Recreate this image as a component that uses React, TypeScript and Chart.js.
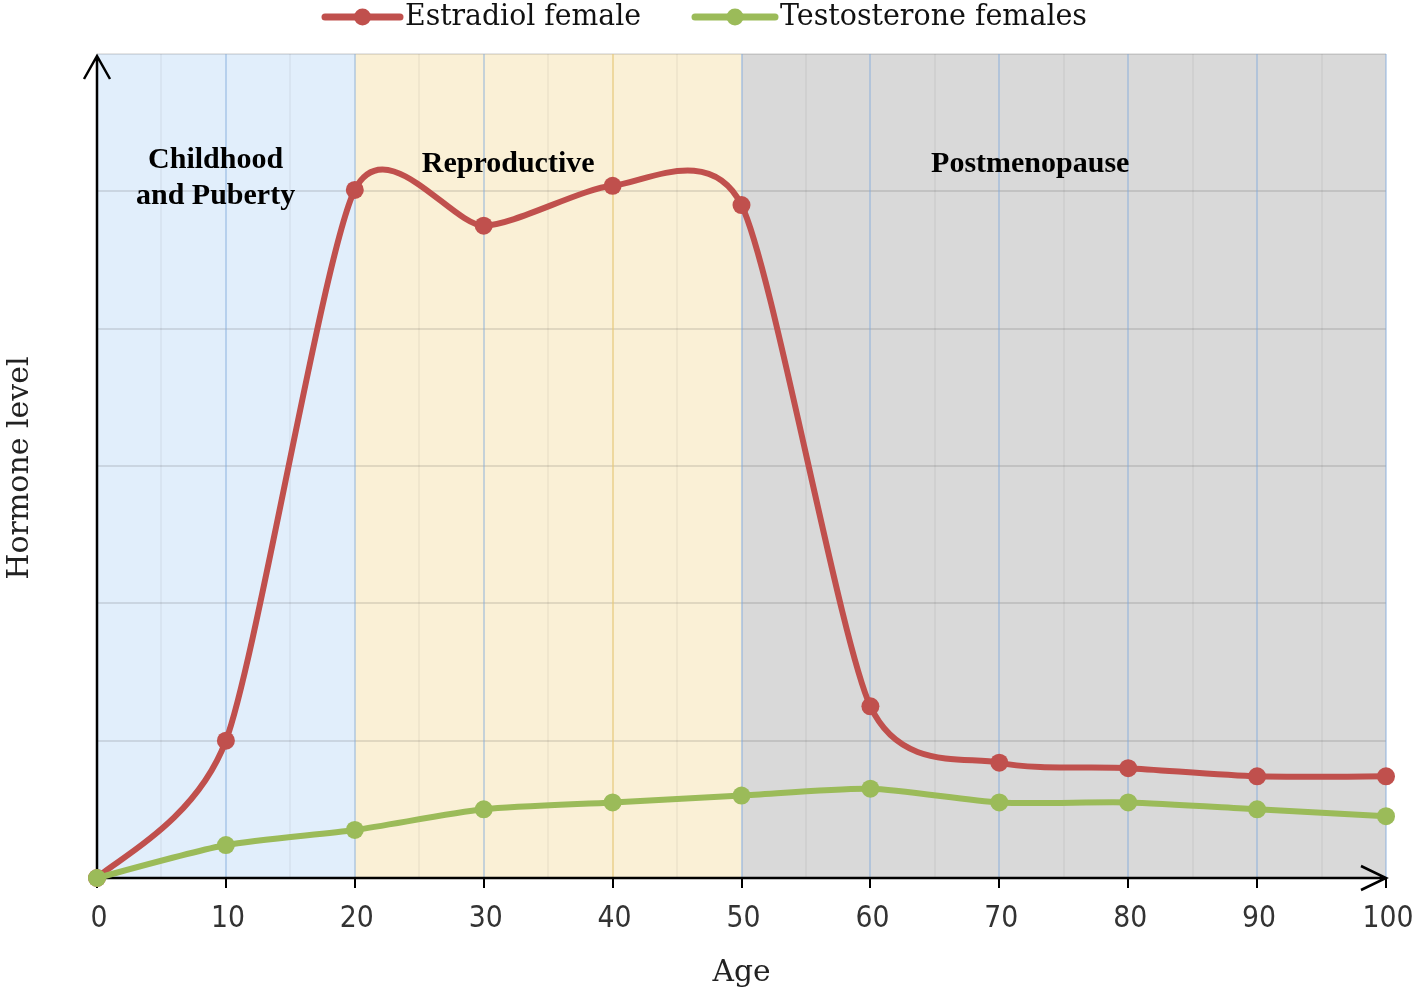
import React, { useEffect, useRef } from "react";
import { Chart, registerables } from "chart.js";

Chart.register(...registerables);

const ages = [0, 10, 20, 30, 40, 50, 60, 70, 80, 90, 100];
const estradiol = [0, 1.0, 5.01, 4.75, 5.04, 4.9, 1.25, 0.84, 0.8, 0.74, 0.74];
const testosterone = [0, 0.24, 0.35, 0.5, 0.55, 0.6, 0.65, 0.55, 0.55, 0.5, 0.45];
const xTickLabels = ["0", "10", "20", "30", "40", "50", "60", "70", "80", "90", "100"];
const phases = [
  { from: 0, to: 20, color: "#e1eefb", label: ["Childhood", "and Puberty"], cx: 9.2, y: [160, 196] },
  { from: 20, to: 50, color: "#faf0d6", label: ["Reproductive"], cx: 31.9, y: [164] },
  { from: 50, to: 100, color: "#d9d9d9", label: ["Postmenopause"], cx: 72.4, y: [164] },
];
const seriesNames = ["Estradiol female", "Testosterone females"];
const RED = "#c0504d";
const GREEN = "#9bbb59";
const SMOOTH = 0.12;

function smoothControlPoints(chart: any) {
  chart.data.datasets.forEach((_: any, di: number) => {
    const meta = chart.getDatasetMeta(di);
    const pts = meta.data;
    const n = pts.length;
    for (let i = 0; i < n; i++) {
      const p = pts[i];
      const prev = pts[Math.max(0, i - 1)];
      const next = pts[Math.min(n - 1, i + 1)];
      const tx = (next.x - prev.x) * SMOOTH;
      const ty = (next.y - prev.y) * SMOOTH;
      p.cp1x = p.x - tx;
      p.cp1y = p.y - ty;
      p.cp2x = p.x + tx;
      p.cp2y = p.y + ty;
    }
    if (meta.dataset) {
      meta.dataset._pointsUpdated = true;
      meta.dataset._path = undefined;
    }
  });
}

const decorPlugin = {
  id: "decor",
  beforeDatasetsDraw(chart: any) {
    smoothControlPoints(chart);
    const ctx = chart.ctx;
    const xs = chart.scales.x;
    const ys = chart.scales.y;
    const top = ys.getPixelForValue(6);
    const bottom = ys.getPixelForValue(0);
    const left = xs.getPixelForValue(0);
    const right = xs.getPixelForValue(100);
    ctx.save();
    for (const p of phases) {
      const x0 = xs.getPixelForValue(p.from);
      const x1 = xs.getPixelForValue(p.to);
      ctx.fillStyle = p.color;
      ctx.fillRect(x0, top, x1 - x0, bottom - top);
    }
    ctx.lineWidth = 2;
    for (let v = 1; v <= 6; v++) {
      const y = Math.round(ys.getPixelForValue(v));
      ctx.strokeStyle = "rgba(0,0,0,0.1)";
      ctx.beginPath();
      ctx.moveTo(left, y);
      ctx.lineTo(right, y);
      ctx.stroke();
    }
    for (let a = 5; a <= 100; a += 5) {
      const x = Math.round(xs.getPixelForValue(a));
      if (a % 10 === 0) {
        ctx.strokeStyle = a === 40 ? "rgba(230,200,120,0.6)" : "rgba(130,170,220,0.45)";
      } else {
        ctx.strokeStyle = "rgba(0,0,0,0.04)";
      }
      ctx.lineWidth = 2;
      ctx.beginPath();
      ctx.moveTo(x, top);
      ctx.lineTo(x, bottom);
      ctx.stroke();
    }
    ctx.strokeStyle = "#000";
    ctx.lineWidth = 2.5;
    ctx.beginPath();
    ctx.moveTo(left, bottom);
    ctx.lineTo(left, top + 2);
    ctx.moveTo(left - 13, top + 25);
    ctx.lineTo(left, top + 2);
    ctx.lineTo(left + 13, top + 25);
    ctx.moveTo(left, bottom);
    ctx.lineTo(right, bottom);
    ctx.moveTo(right - 25, bottom - 12);
    ctx.lineTo(right, bottom);
    ctx.lineTo(right - 25, bottom + 12);
    ctx.stroke();
    ctx.lineWidth = 2;
    for (const a of ages) {
      const x = Math.round(xs.getPixelForValue(a));
      ctx.beginPath();
      ctx.moveTo(x, bottom);
      ctx.lineTo(x, bottom + 10);
      ctx.stroke();
    }
    ctx.fillStyle = "#333";
    ctx.font = "31px 'DejaVu Sans'";
    ctx.textAlign = "center";
    ctx.textBaseline = "middle";
    ages.forEach((a, i) => {
      const lbl = xTickLabels[i];
      ctx.fillText(lbl, xs.getPixelForValue(a) + 2, 919, lbl.length * 17);
    });
    ctx.fillStyle = "#222";
    ctx.font = "30px 'DejaVu Serif'";
    ctx.fillText("Age", xs.getPixelForValue(50), 973, 58);
    ctx.save();
    ctx.translate(20, 468);
    ctx.rotate(-Math.PI / 2);
    ctx.fillText("Hormone level", 0, 0, 232);
    ctx.restore();
    ctx.fillStyle = "#000";
    ctx.font = "bold 30px 'Liberation Serif'";
    for (const p of phases) {
      p.label.forEach((t, i) => {
        ctx.fillText(t, xs.getPixelForValue(p.cx), p.y[i]);
      });
    }
    const items = [
      { name: seriesNames[0], color: RED, x0: 325, x1: 400, tx: 405, tw: 236 },
      { name: seriesNames[1], color: GREEN, x0: 695, x1: 775, tx: 780, tw: 307 },
    ];
    for (const it of items) {
      ctx.strokeStyle = it.color;
      ctx.lineWidth = 7;
      ctx.lineCap = "round";
      ctx.beginPath();
      ctx.moveTo(it.x0, 17);
      ctx.lineTo(it.x1, 17);
      ctx.stroke();
      ctx.fillStyle = it.color;
      ctx.beginPath();
      ctx.arc((it.x0 + it.x1) / 2, 17, 8.5, 0, Math.PI * 2);
      ctx.fill();
      ctx.fillStyle = "#111";
      ctx.font = "30px 'DejaVu Serif'";
      ctx.textAlign = "left";
      ctx.fillText(it.name, it.tx, 17, it.tw);
    }
    ctx.restore();
  },
};

export default function App() {
  const ref = useRef<HTMLCanvasElement>(null);
  useEffect(() => {
    const chart = new Chart(ref.current!, {
      type: "line",
      data: {
        datasets: [
          {
            label: seriesNames[0],
            data: ages.map((a, i) => ({ x: a, y: estradiol[i] })),
            borderColor: RED,
            backgroundColor: RED,
            borderWidth: 6,
            pointRadius: 9,
            pointBorderWidth: 0,
            tension: 0.4,
            order: 1,
            clip: false,
          },
          {
            label: seriesNames[1],
            data: ages.map((a, i) => ({ x: a, y: testosterone[i] })),
            borderColor: GREEN,
            backgroundColor: GREEN,
            borderWidth: 6,
            pointRadius: 9,
            pointBorderWidth: 0,
            tension: 0.4,
            order: 0,
            clip: false,
          },
        ],
      },
      options: {
        animation: false,
        responsive: true,
        maintainAspectRatio: false,
        layout: { padding: { left: 97, right: 32, top: 54, bottom: 119 } },
        plugins: { legend: { display: false }, tooltip: { enabled: false } },
        scales: {
          x: { type: "linear", min: 0, max: 100, display: false },
          y: { type: "linear", min: 0, max: 6, display: false },
        },
      },
      plugins: [decorPlugin],
    });
    return () => chart.destroy();
  }, []);
  return (
    <div style={{ position: "fixed", left: 0, top: 0, width: 1418, height: 997, background: "#fff" }}>
      <canvas ref={ref} />
    </div>
  );
}
